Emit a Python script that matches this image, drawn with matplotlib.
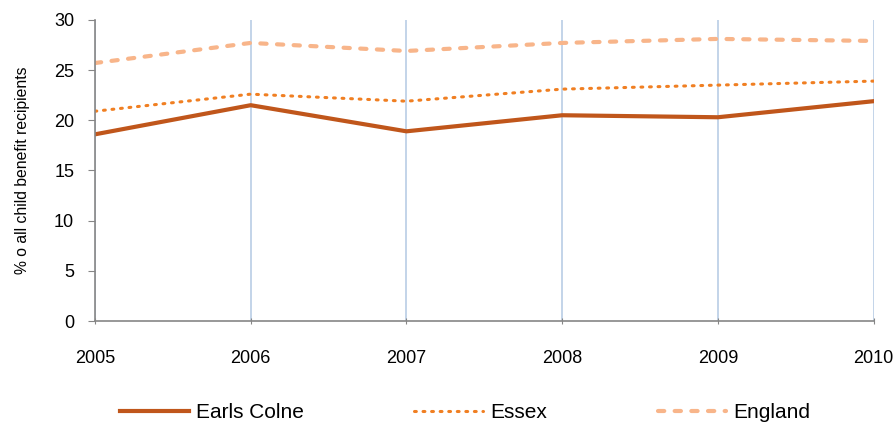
import matplotlib.pyplot as plt
import numpy as np

plt.rcParams['font.family'] = ['Liberation Sans', 'DejaVu Sans']

years = ['2005', '2006', '2007', '2008', '2009', '2010']
earls_colne = [18.6, 21.5, 18.9, 20.5, 20.3, 21.9]
essex = [20.9, 22.6, 21.9, 23.1, 23.5, 23.9]
england = [25.7, 27.7, 26.9, 27.7, 28.1, 27.9]

fig = plt.figure(figsize=(8.96, 4.22), dpi=100)
ax = fig.add_axes([0.106, 0.239, 0.869, 0.714])

x = np.arange(len(years))
ax.plot(x, earls_colne, color='#c0561b', lw=3, label='Earls Colne')
ax.plot(x, essex, color='#f07f22', lw=2.2, linestyle=(0, (0.6, 2.2)),
        dash_capstyle='round', label='Essex')
ax.plot(x, england, color='#f8b58a', lw=3, linestyle=(0, (1.5, 2.5)),
        dash_capstyle='round', label='England')

ax.set_xlim(0, len(years) - 1)
ax.set_ylim(0, 30)
ax.set_yticks(range(0, 31, 5))
ax.set_xticks(x)
ax.set_xticklabels(years)

# vertical gridlines only
ax.xaxis.grid(True, color='#b9cde5', lw=1.2)
ax.set_axisbelow(True)

for s in ['top', 'right']:
    ax.spines[s].set_visible(False)
for s in ['left', 'bottom']:
    ax.spines[s].set_color('#868686')
    ax.spines[s].set_linewidth(1.2)

ax.tick_params(axis='y', colors='#868686', length=5, labelcolor='black', labelsize=13, pad=10)
ax.tick_params(axis='x', colors='#868686', length=5, direction='inout',
               labelcolor='black', labelsize=13, pad=18)

ax.set_ylabel('% o all child benefit recipients', fontsize=11.3, labelpad=17)

fig.legend(loc='lower left', bbox_to_anchor=(0.113, -0.045), ncol=3, frameon=False,
           fontsize=15, handlelength=3.3, columnspacing=5.3, handletextpad=0.35)

fig.savefig('out.png', dpi=100)
